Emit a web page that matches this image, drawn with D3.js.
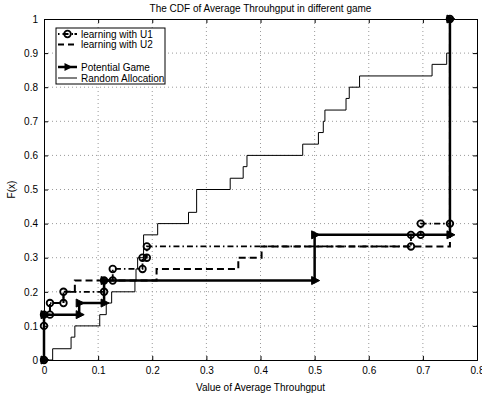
<!DOCTYPE html>
<html>
<head>
<meta charset="utf-8">
<script src="https://cdn.jsdelivr.net/npm/d3@7"></script>
<style>
  body { margin: 0; background: #fff; }
  text { font-family: "Liberation Sans", Arial, sans-serif; fill: #000; }
</style>
</head>
<body>
<svg id="cdf" width="482" height="396"></svg>
<script>
// values (F(x) steps of 1/30)
const xTicks = [0, 0.1, 0.2, 0.3, 0.4, 0.5, 0.6, 0.7, 0.8];
const yTicks = [0, 0.1, 0.2, 0.3, 0.4, 0.5, 0.6, 0.7, 0.8, 0.9, 1];

// learning with U1 (dash-dot, circle markers) - corner points
const u1X = [0, 0, 0, 0.011, 0.011, 0.036, 0.036, 0.111, 0.111, 0.127, 0.127, 0.182, 0.182, 0.19, 0.19, 0.678, 0.678, 0.696, 0.696, 0.75, 0.75];
const u1Y = [0, 0.1, 0.133, 0.133, 0.167, 0.167, 0.2, 0.2, 0.233, 0.233, 0.267, 0.267, 0.3, 0.3, 0.333, 0.333, 0.367, 0.367, 0.4, 0.4, 1];

// learning with U2 (dashed) - corner points
const u2X = [0, 0, 0.011, 0.011, 0.036, 0.036, 0.057, 0.057, 0.208, 0.208, 0.359, 0.359, 0.402, 0.402, 0.75, 0.75];
const u2Y = [0, 0.133, 0.133, 0.167, 0.167, 0.2, 0.2, 0.233, 0.233, 0.267, 0.267, 0.3, 0.3, 0.333, 0.333, 1];

// Potential Game (thick, triangle markers) - corner points
const pgX = [0, 0, 0.065, 0.065, 0.111, 0.111, 0.5, 0.5, 0.75, 0.75];
const pgY = [0, 0.133, 0.133, 0.167, 0.167, 0.233, 0.233, 0.367, 0.367, 1];

// Random Allocation (thin solid) - step positions and levels
const randX = [0.016, 0.05, 0.057, 0.103, 0.115, 0.125, 0.168, 0.17, 0.173, 0.184, 0.21, 0.267, 0.282, 0.344, 0.368, 0.375, 0.478, 0.507, 0.516, 0.519, 0.558, 0.564, 0.583, 0.717, 0.744, 0.75];
const randY = [0.033, 0.067, 0.1, 0.133, 0.167, 0.2, 0.233, 0.267, 0.3, 0.367, 0.4, 0.433, 0.5, 0.533, 0.567, 0.6, 0.633, 0.667, 0.7, 0.733, 0.767, 0.8, 0.833, 0.867, 0.9, 1];

const legendNames = ["learning with U1", "learning with U2", "", "Potential Game", "Random Allocation"];

const svg = d3.select("#cdf");
const margin = { top: 19, right: 5, bottom: 36, left: 44 };
const width = +svg.attr("width") - margin.left - margin.right;
const height = +svg.attr("height") - margin.top - margin.bottom;
const g = svg.append("g").attr("transform", "translate(" + margin.left + "," + margin.top + ")");

const x = d3.scaleLinear().domain([0, 0.8]).range([0, width]);
const y = d3.scaleLinear().domain([0, 1]).range([height, 0]);

// dotted grid
g.selectAll(".gx").data(xTicks.slice(1, -1)).enter().append("line")
  .attr("x1", d => x(d)).attr("x2", d => x(d))
  .attr("y1", 0).attr("y2", height)
  .attr("stroke", "#9a9a9a").attr("stroke-width", 1).attr("stroke-dasharray", "1,3");
g.selectAll(".gy").data(yTicks.slice(1, -1)).enter().append("line")
  .attr("y1", d => y(d)).attr("y2", d => y(d))
  .attr("x1", 0).attr("x2", width)
  .attr("stroke", "#9a9a9a").attr("stroke-width", 1).attr("stroke-dasharray", "1,3");

// axes, ticks inside, matlab style
g.append("g").attr("transform", "translate(0," + height + ")")
  .call(d3.axisBottom(x).tickValues(xTicks).tickSize(-4).tickPadding(7).tickFormat(d3.format("")));
g.append("g")
  .call(d3.axisLeft(y).tickValues(yTicks).tickSize(-4).tickPadding(6).tickFormat(d3.format("")));
g.append("g").call(d3.axisTop(x).tickValues(xTicks).tickSize(-4).tickFormat(""));
g.append("g").attr("transform", "translate(" + width + ",0)")
  .call(d3.axisRight(y).tickValues(yTicks).tickSize(-4).tickFormat(""));
g.selectAll(".domain").attr("stroke", "#000").attr("stroke-width", 1);
g.selectAll(".tick line").attr("stroke", "#000");
g.selectAll(".tick text").style("font-size", "10px").attr("fill", "#000");

const line = d3.line().x(d => x(d[0])).y(d => y(d[1]));

// random allocation as stairs
let randPts = [[0, 0]];
let prev = 0;
randX.forEach((v, i) => {
  randPts.push([v, prev]);
  randPts.push([v, randY[i]]);
  prev = randY[i];
});
g.append("path").datum(randPts).attr("d", line)
  .attr("fill", "none").attr("stroke", "#000").attr("stroke-width", 1);

const u2Pts = u2X.map((v, i) => [v, u2Y[i]]);
g.append("path").datum(u2Pts).attr("d", line)
  .attr("fill", "none").attr("stroke", "#000").attr("stroke-width", 2)
  .attr("stroke-dasharray", "7,4");

const u1Pts = u1X.map((v, i) => [v, u1Y[i]]);
g.append("path").datum(u1Pts).attr("d", line)
  .attr("fill", "none").attr("stroke", "#000").attr("stroke-width", 1.8)
  .attr("stroke-dasharray", "6,3,1.5,3");

const pgPts = pgX.map((v, i) => [v, pgY[i]]);
g.append("path").datum(pgPts).attr("d", line)
  .attr("fill", "none").attr("stroke", "#000").attr("stroke-width", 2.5);

// markers
const tri = "M-3,-4L5,0L-3,4Z";
g.selectAll(".pgm").data(pgPts).enter().append("path")
  .attr("d", tri)
  .attr("transform", d => "translate(" + x(d[0]) + "," + y(d[1]) + ")")
  .attr("fill", "#000").attr("stroke", "#000").attr("stroke-width", 1);

g.selectAll(".u1m").data(u1Pts).enter().append("circle")
  .attr("cx", d => x(d[0])).attr("cy", d => y(d[1])).attr("r", 3.3)
  .attr("fill", "none").attr("stroke", "#000").attr("stroke-width", 1.8);

// legend
const leg = g.append("g").attr("transform", "translate(12,9)");
leg.append("rect").attr("width", 109).attr("height", 56)
  .attr("fill", "#fff").attr("stroke", "#000").attr("stroke-width", 1);
const rowY = [6, 16.5, 27, 39, 50];
const styles = [
  { w: 1.8, dash: "1.5,3,6,3,1.5", mark: "circle" },
  { w: 2, dash: "6,4", mark: null },
  null,
  { w: 2.5, dash: null, mark: "tri" },
  { w: 1, dash: null, mark: null }
];
legendNames.forEach((name, i) => {
  const s = styles[i];
  if (!s) return;
  const ly = rowY[i];
  leg.append("line").attr("x1", 2).attr("x2", 21).attr("y1", ly).attr("y2", ly)
    .attr("stroke", "#000").attr("stroke-width", s.w)
    .attr("stroke-dasharray", s.dash);
  if (s.mark === "circle") {
    leg.append("circle").attr("cx", 11.5).attr("cy", ly).attr("r", 3.3)
      .attr("fill", "none").attr("stroke", "#000").attr("stroke-width", 1.8);
  } else if (s.mark === "tri") {
    leg.append("path").attr("d", tri).attr("transform", "translate(11.5," + ly + ")").attr("fill", "#000");
  }
  leg.append("text").attr("x", 25).attr("y", ly + 3.5).style("font-size", "10px").text(name);
});

// titles
svg.append("text").attr("x", margin.left + width / 2).attr("y", 12)
  .attr("text-anchor", "middle").style("font-size", "10px")
  .text("The CDF of Average Throuhgput in different game");
svg.append("text").attr("x", margin.left + width / 2).attr("y", 391)
  .attr("text-anchor", "middle").style("font-size", "10px")
  .text("Value of Average Throuhgput");
svg.append("text").attr("transform", "translate(15," + (margin.top + height / 2) + ") rotate(-90)")
  .attr("text-anchor", "middle").style("font-size", "10px")
  .text("F(x)");
</script>
</body>
</html>
